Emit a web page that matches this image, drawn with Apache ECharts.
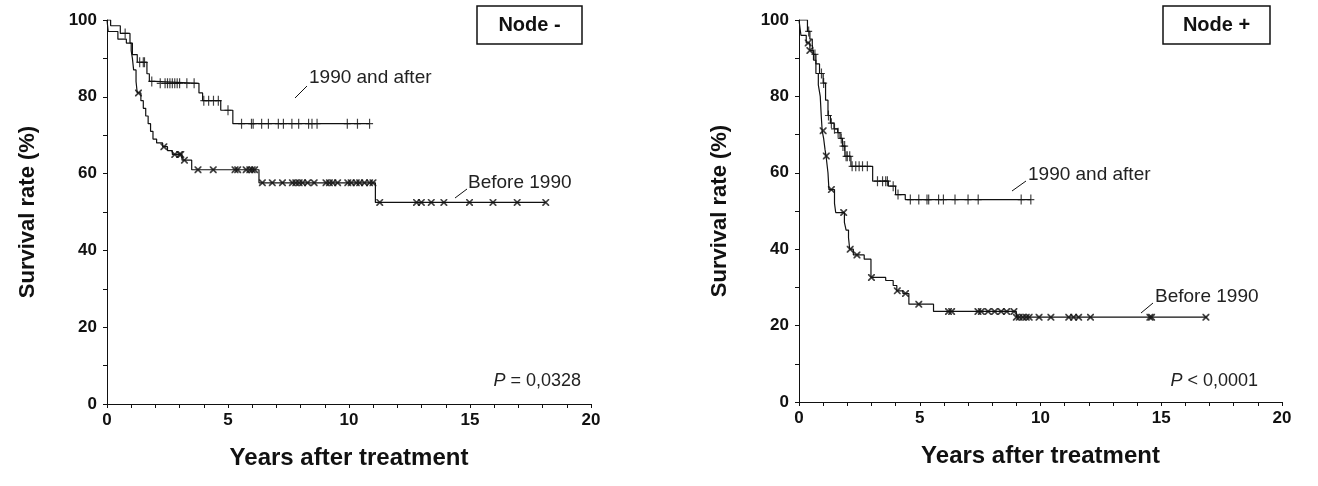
<!DOCTYPE html>
<html>
<head>
<meta charset="utf-8">
<script src="https://cdn.jsdelivr.net/npm/echarts@6/dist/echarts.min.js"></script>
<style>
    html, body { margin: 0; padding: 0; background: #fff; }
    #chart { width: 1318px; height: 486px; }
</style>
</head>
<body>
<div id="chart"></div>
<script>
    // Node - : 1990 and after (step times / survival %)
    const negAfterT = [0, 0.15, 0.55, 0.95, 1.05, 1.25, 1.65, 1.75, 2.0, 3.8, 3.95, 4.7, 5.2, 10.85];
    const negAfterS = [100, 98.5, 96.5, 94, 91, 89, 86, 84, 83.5, 81, 79, 76.5, 73, 73];
    const negAfterCens = [0.75, 1.35, 1.5, 1.55, 1.85, 2.2, 2.4, 2.5, 2.6, 2.7, 2.8, 2.9, 3.0, 3.3, 3.6,
        4.0, 4.2, 4.4, 4.6, 5.0, 5.56, 5.97, 6.04, 6.39, 6.67, 7.08, 7.29, 7.64, 7.92, 8.33, 8.47, 8.68,
        9.93, 10.35, 10.85];

    // Node - : before 1990
    const negBeforeT = [0, 0.05, 0.45, 0.8, 1.0, 1.05, 1.1, 1.2, 1.25, 1.4, 1.5, 1.6, 1.7, 1.8, 1.9,
        2.05, 2.3, 2.5, 2.7, 3.1, 3.5, 6.28, 11.09, 18.13];
    const negBeforeS = [100, 97, 95, 94, 92, 90, 87, 84, 81, 79, 77, 75, 73, 71, 69,
        68, 67, 66, 65, 63.5, 61, 57.6, 52.5, 52.5];
    const negBeforeCens = [1.3, 2.35, 2.8, 3.0, 3.05, 3.2, 3.76, 4.39, 5.29, 5.4, 5.75, 5.9, 6.0, 6.1,
        6.42, 6.83, 7.25, 7.66, 7.8, 7.94, 8.08, 8.29, 8.56, 9.05, 9.19, 9.33, 9.53, 9.95, 10.09, 10.3,
        10.44, 10.64, 10.85, 10.99, 11.27, 12.79, 12.99, 13.4, 13.92, 14.98, 15.95, 16.95, 18.13];

    // Node + : 1990 and after
    const posAfterT = [0, 0.35, 0.45, 0.55, 0.6, 0.7, 0.85, 1.0, 1.1, 1.2, 1.3, 1.45, 1.6, 1.7, 1.8,
        1.9, 2.15, 3.05, 3.7, 4.0, 4.4, 4.5, 9.6];
    const posAfterS = [100, 97, 95, 93.5, 91, 88.5, 86, 83.5, 79, 75, 73, 71.5, 70.5, 69, 67,
        64.3, 61.7, 57.8, 56.5, 54.3, 53, 53, 53];
    const posAfterCens = [0.4, 0.66, 0.93, 1.02, 1.22, 1.34, 1.47, 1.62, 1.75, 1.82, 1.89, 1.95, 2.0,
        2.1, 2.2, 2.35, 2.49, 2.63, 2.83, 3.25, 3.46, 3.59, 3.66, 3.9, 4.1, 4.61, 4.96, 5.3, 5.37,
        5.78, 5.98, 6.46, 7.0, 7.42, 9.2, 9.6];

    // Node + : before 1990
    const posBeforeT = [0, 0.08, 0.3, 0.45, 0.6, 0.7, 0.8, 0.88, 0.92, 0.96, 1.02, 1.08, 1.12, 1.2,
        1.24, 1.47, 1.52, 1.88, 1.95, 2.05, 2.1, 2.25, 2.7, 2.98, 3.59, 3.9, 4.05, 4.3, 4.55, 5.57,
        9.0, 16.9];
    const posBeforeS = [100, 96, 94, 92, 89.5, 86, 83, 80, 75, 71, 69, 66, 64.4, 60,
        55.6, 52, 49.6, 47, 45, 43, 40, 38.5, 37.4, 32.6, 31.8, 30.5, 29.1, 28.4, 25.6, 23.7,
        22.2, 22.2];
    const posBeforeCens = [0.38, 0.45, 1.0, 1.13, 1.34, 1.85, 2.12, 2.4, 3.0, 4.07, 4.41, 4.96,
        6.19, 6.32, 7.41, 7.55, 7.83, 8.1, 8.37, 8.6, 8.9, 9.0, 9.12, 9.27, 9.41, 9.53, 9.94, 10.43,
        11.17, 11.37, 11.58, 12.07, 14.53, 14.6, 16.85];

    const xTicks = [0, 5, 10, 15, 20];
    const yTicks = [0, 20, 40, 60, 80, 100];

    const ink = '#111';
    const plusSymbol = 'path://M3,0h1.2v10h-1.2z M0,4.4h7.2v1.2h-7.2z';
    const crossSymbol = 'path://M0,0L1.2,0L7,5.8L7,7L5.8,7L0,1.2Z M5.8,0L7,0L7,1.2L1.2,7L0,7L0,5.8Z';

    function stepAt(T, S, t) {
        let v = S[0];
        for (let i = 0; i < T.length; i++) {
            if (T[i] <= t + 1e-9) v = S[i];
        }
        return v;
    }

    function curve(T, S, idx) {
        return {
            type: 'line', xAxisIndex: idx, yAxisIndex: idx, step: 'end',
            symbol: 'none', silent: true,
            lineStyle: {color: ink, width: 1.2},
            data: T.map((t, i) => [t, S[i]])
        };
    }

    function censors(T, S, C, idx, symbol, size) {
        return {
            type: 'scatter', xAxisIndex: idx, yAxisIndex: idx, silent: true,
            symbol: symbol, symbolSize: size,
            itemStyle: {color: ink},
            data: C.map(t => [t, stepAt(T, S, t)])
        };
    }

    function xAxis(idx) {
        return {
            gridIndex: idx, type: 'value', min: xTicks[0], max: xTicks[xTicks.length - 1], interval: 5,
            name: 'Years after treatment', nameLocation: 'middle', nameGap: 42,
            nameTextStyle: {fontFamily: 'Liberation Sans', fontWeight: 'bold', fontSize: 24, color: ink},
            axisLine: {lineStyle: {color: ink, width: 1}},
            axisTick: {length: 4, lineStyle: {color: ink}},
            minorTick: {show: true, splitNumber: 5, length: 4, lineStyle: {color: ink}},
            axisLabel: {fontFamily: 'Liberation Sans', fontWeight: 'bold', fontSize: 17, color: ink, margin: 8},
            splitLine: {show: false}
        };
    }

    function yAxis(idx) {
        return {
            gridIndex: idx, type: 'value', min: yTicks[0], max: yTicks[yTicks.length - 1], interval: 20,
            name: 'Survival rate (%)', nameLocation: 'middle', nameGap: 68,
            nameTextStyle: {fontFamily: 'Liberation Sans', fontWeight: 'bold', fontSize: 22, color: ink},
            axisLine: {show: true, lineStyle: {color: ink, width: 1}},
            axisTick: {show: true, length: 4, lineStyle: {color: ink}},
            minorTick: {show: true, splitNumber: 2, length: 4, lineStyle: {color: ink}},
            axisLabel: {fontFamily: 'Liberation Sans', fontWeight: 'bold', fontSize: 17, color: ink, margin: 10},
            splitLine: {show: false}
        };
    }

    function label(x, y, text) {
        return {type: 'text', x: x, y: y,
            style: {text: text, font: '19px "Liberation Sans"', fill: '#222', verticalAlign: 'middle'}};
    }
    function leader(x1, y1, x2, y2) {
        return {type: 'line', shape: {x1: x1, y1: y1, x2: x2, y2: y2}, style: {stroke: ink, lineWidth: 1}};
    }
    function pValue(x, y, rest) {
        return {type: 'text', x: x, y: y, style: {
            text: '{i|P}' + rest, align: 'right', verticalAlign: 'middle', fill: '#222',
            font: '18px "Liberation Sans"',
            rich: {i: {fontStyle: 'italic', fontSize: 18, fontFamily: 'Liberation Sans', fill: '#222'}}
        }};
    }
    function nodeBox(x, y, w, h, text) {
        return [
            {type: 'rect', shape: {x: x, y: y, width: w, height: h},
                style: {fill: '#fff', stroke: ink, lineWidth: 1.5}},
            {type: 'text', x: x + w / 2, y: y + h / 2, style: {text: text, align: 'center',
                verticalAlign: 'middle', font: 'bold 20px "Liberation Sans"', fill: ink}}
        ];
    }

    let myChart = echarts.init(document.getElementById('chart'));

    let option = {
        backgroundColor: '#fff',
        animation: false,
        grid: [
            {left: 107, top: 20, width: 484, height: 384},
            {left: 799, top: 20, width: 483, height: 382}
        ],
        xAxis: [xAxis(0), xAxis(1)],
        yAxis: [yAxis(0), yAxis(1)],
        series: [
            curve(negAfterT, negAfterS, 0),
            curve(negBeforeT, negBeforeS, 0),
            censors(negAfterT, negAfterS, negAfterCens, 0, plusSymbol, [7, 10]),
            censors(negBeforeT, negBeforeS, negBeforeCens, 0, crossSymbol, [7, 7]),
            curve(posAfterT, posAfterS, 1),
            curve(posBeforeT, posBeforeS, 1),
            censors(posAfterT, posAfterS, posAfterCens, 1, plusSymbol, [7, 10]),
            censors(posBeforeT, posBeforeS, posBeforeCens, 1, crossSymbol, [7, 7])
        ],
        graphic: [
            leader(295, 98, 307, 86),
            label(309, 78, '1990 and after'),
            leader(455, 198, 467, 189),
            label(468, 183, 'Before 1990'),
            leader(1012, 191, 1026, 181),
            label(1028, 175, '1990 and after'),
            leader(1141, 313, 1153, 303),
            label(1155, 297, 'Before 1990'),
            pValue(581, 381, ' = 0,0328'),
            pValue(1258, 381, ' < 0,0001')
        ].concat(nodeBox(477, 6, 105, 38, 'Node -'), nodeBox(1163, 6, 107, 38, 'Node +'))
    };

    myChart.setOption(option);
</script>
</body>
</html>
